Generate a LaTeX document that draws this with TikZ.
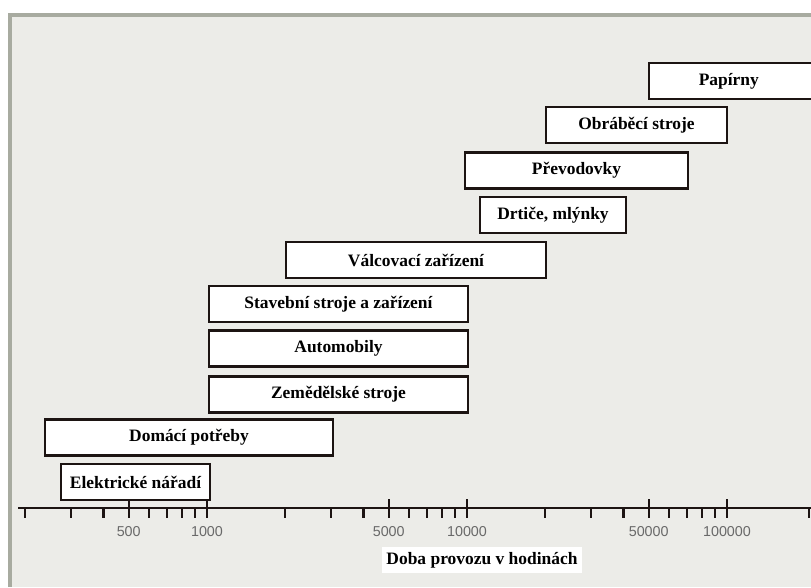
\documentclass[tikz,border=0pt]{standalone}
\usepackage{fontspec}
\setmainfont{Liberation Serif}
\setsansfont{Liberation Sans}
\usepackage{tikz}
\usetikzlibrary{positioning, calc}
\definecolor{panelgray}{RGB}{236, 236, 232}
\definecolor{panelrim}{RGB}{168, 171, 160}
\definecolor{barink}{RGB}{28, 20, 18}
\definecolor{ticktext}{RGB}{105, 105, 105}

\tikzset{
    lifebox/.style={draw=barink, line width=1.9pt, fill=white, inner sep=0pt,
        minimum height=0.9cm, font=\bfseries\fontsize{12.4}{14}\selectfont},
    ticklabel/.style={text=ticktext, font=\sffamily\fontsize{10.2}{12}\selectfont, inner sep=1pt},
}

% one bar of the chart: name, left x, right x, centre y (all in px), label
\newcommand{\lifebar}[5]{%
    \node[lifebox, minimum width={(#3-#2)*0.025cm}] (#1) at ({(#2+#3)/2}, #4) {#5};
}

\begin{document}
\begin{tikzpicture}[x=0.025cm, y=-0.025cm]
    \useasboundingbox (0,0) rectangle (811,587);

    % Background panel with its darker rim
    \fill[white] (0,0) rectangle (811,587);
    \fill[panelgray] (9,14) rectangle (811,587);
    \draw[panelrim, line width=2.2pt] (10,587) -- (10,15) -- (811,15);

    % Bars, from the top down
    \lifebar{papirny}{649}{815}{81}{\hspace*{-0.16cm}Papírny}
    \lifebar{obrabeci}{546}{727}{125}{Obráběcí stroje}
    \lifebar{prevodovky}{465}{688}{170.5}{Převodovky}
    \lifebar{drtice}{480}{626}{215}{Drtiče, mlýnky}
    \lifebar{valcovaci}{286}{546}{260}{Válcovací zařízení}
    \lifebar{stavebni}{209}{468}{304}{Stavební stroje a zařízení}
    \lifebar{automobily}{209}{468}{348.5}{Automobily}
    \lifebar{zemedelske}{209}{468}{394.5}{Zemědělské stroje}
    \lifebar{domaci}{45}{333}{437.5}{Domácí potřeby}
    \lifebar{elektricke}{61}{210}{482}{Elektrické nářadí}

    % Log axis: one decade is 260 px, 1000 h sits at x = 207
    \coordinate (axisL) at (18,508);
    \coordinate (axisR) at (811,508);
    \draw[barink, line width=2pt] (axisL) -- (axisR);
    \foreach \k in {-1,0,1}
        \foreach \d in {2,...,10} {
            \pgfmathsetmacro{\tx}{207+260*(\k+log10(\d))}
            \ifnum\d=5 \def\ttop{499}\else\ifnum\d=10 \def\ttop{499}\else\def\ttop{508}\fi\fi
            \draw[barink, line width=1.5pt] (\tx,\ttop) -- (\tx,518);
        }
    \draw[barink, line width=1.5pt] (809,508) -- (809,518);

    % Tick labels (mantissa / decade above 1000 h / text)
    \foreach \m/\k/\v/\nm in {5/-1/500/a, 1/0/1000/b, 5/0/5000/c, 1/1/10000/d, 5/1/50000/e, 1/2/100000/f} {
        \pgfmathsetmacro{\tx}{207+260*(\k+log10(\m))}
        \node[ticklabel] (lab\nm) at (\tx,532) {\v};
    }

    % Axis title
    \node[fill=white, inner xsep=0.1cm, minimum height=0.65cm,
        font=\bfseries\fontsize{12.4}{14}\selectfont] (axistitle) at (482,560) {Doba provozu v hodinách};
\end{tikzpicture}
\end{document}
